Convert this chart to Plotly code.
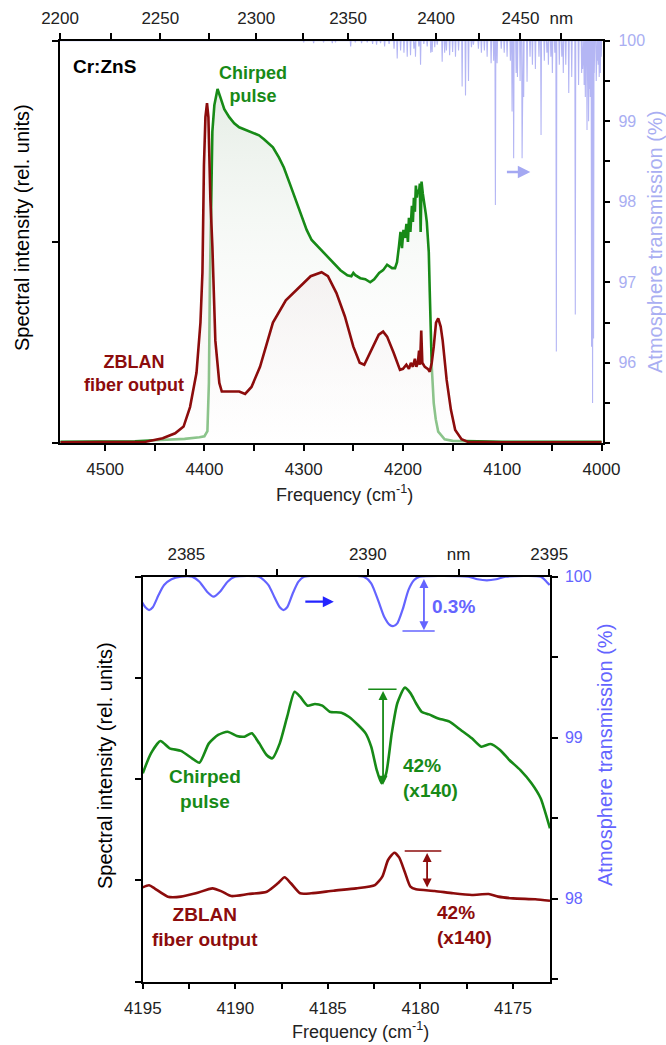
import plotly.graph_objects as go

W, H = 666, 1045
FONT = "Liberation Sans, Arial, sans-serif"

# ---------------- data: top panel (cm^-1 , rel. units) ----------------
green_top_f = [4545, 4500, 4470, 4450, 4420, 4405, 4400, 4397, 4395.5, 4394.5, 4393.5, 4392, 4390, 4388,
               4386.8, 4384, 4380, 4375, 4370, 4365, 4360, 4355, 4350, 4345, 4340, 4335, 4331, 4325, 4320,
               4314, 4306, 4297, 4292, 4288, 4280, 4275, 4271, 4263, 4256, 4252, 4250, 4248, 4243, 4238,
               4233, 4229, 4224, 4220, 4216, 4213, 4211, 4208, 4206, 4204, 4202.5, 4201, 4199.5, 4198,
               4196.5, 4195, 4194, 4192.5, 4191, 4190, 4189, 4188, 4187, 4186, 4185, 4184, 4183, 4182.2,
               4181.3, 4180, 4179, 4178, 4177, 4176, 4175, 4174, 4173, 4172, 4171, 4169, 4167, 4164.5,
               4160, 4158, 4150, 4100, 4000]
green_top_I = [0.008, 0.008, 0.010, 0.015, 0.022, 0.030, 0.035, 0.06, 0.30, 0.80, 1.20, 1.55, 1.68, 1.74,
               1.76, 1.72, 1.66, 1.62, 1.59, 1.57, 1.56, 1.55, 1.54, 1.53, 1.51, 1.49, 1.47, 1.42, 1.37,
               1.29, 1.18, 1.06, 1.01, 0.99, 0.95, 0.92, 0.90, 0.86, 0.835, 0.83, 0.846, 0.835, 0.82, 0.815,
               0.80, 0.815, 0.846, 0.86, 0.887, 0.875, 0.87, 0.87, 0.90, 0.98, 1.05, 0.97, 1.06, 1.02,
               1.09, 1.00, 1.12, 1.05, 1.18, 1.10, 1.22, 1.15, 1.28, 1.22, 1.26, 1.24, 1.29, 1.05,
               1.30, 1.24, 1.21, 1.19, 1.14, 1.10, 1.03, 0.95, 0.75, 0.55, 0.38, 0.20, 0.12, 0.058,
               0.03, 0.02, 0.012, 0.008, 0.008]

red_top_f = [4545, 4500, 4470, 4459, 4442, 4429.5, 4421, 4414.5, 4408, 4404, 4402, 4400.5, 4399, 4397.4,
             4396, 4394, 4392, 4389, 4385, 4382.5, 4374, 4365, 4359, 4352.6, 4344, 4331, 4318, 4305.5,
             4293, 4282, 4275.6, 4267, 4258.5, 4250, 4243.6, 4239, 4233, 4224.4, 4220, 4216, 4209.4,
             4203, 4200, 4196.6, 4194, 4192, 4190, 4188, 4186.5, 4185, 4183.8, 4182.8, 4181.6, 4180.5,
             4178, 4175, 4173, 4171, 4169, 4166.7, 4164.5, 4162, 4160, 4156, 4151.7, 4147.4, 4141,
             4135, 4100, 4000]
red_top_I = [0.005, 0.005, 0.006, 0.008, 0.025, 0.05, 0.083, 0.18, 0.35, 0.60, 0.85, 1.38, 1.62, 1.69,
             1.62, 1.21, 0.98, 0.51, 0.30, 0.257, 0.257, 0.257, 0.245, 0.28, 0.38, 0.60, 0.71, 0.77,
             0.83, 0.85, 0.83, 0.746, 0.63, 0.48, 0.40, 0.39, 0.45, 0.54, 0.555, 0.53, 0.45,
             0.365, 0.37, 0.39, 0.37, 0.40, 0.38, 0.42, 0.38, 0.40, 0.46, 0.39, 0.56, 0.40,
             0.38, 0.37, 0.356, 0.40, 0.48, 0.60, 0.62, 0.58, 0.51, 0.315, 0.166, 0.066, 0.02,
             0.008, 0.005, 0.005]

# atmospheric absorption lines (cm^-1, transmission %)
atm_line_f = [4300, 4290, 4280, 4271.2, 4268, 4252.7, 4248, 4241.7, 4236, 4230.6, 4226.6, 4222.6, 4218.5,
              4214, 4209, 4205.8, 4202.4, 4199, 4195.7, 4192.4, 4189, 4187.4, 4184, 4182.3, 4179, 4175.6,
              4172, 4170.6, 4168, 4165.5, 4160.5, 4158, 4156.2, 4153, 4150, 4147.1, 4144, 4140.4, 4137.0,
              4134.0, 4131, 4129, 4124, 4121, 4118, 4115.2, 4111.2, 4108.6, 4106.9, 4105.2, 4101, 4098,
              4095.1, 4091.8, 4090.1, 4088.5, 4086, 4084.7, 4082, 4080.0, 4078.4, 4075.0, 4072, 4069.6,
              4066.6, 4063, 4060.9, 4057.6, 4055, 4053.5, 4051, 4049.5, 4047, 4045.5, 4042.5, 4040,
              4038.5, 4036, 4033, 4030, 4026.4, 4023.1, 4020, 4019, 4017.5, 4016.3, 4014.6, 4013.0,
              4012, 4011.3, 4010, 4009.0, 4008, 4007.3, 4005.3, 4004, 4003.3, 4002.3, 4001.2, 4000.3]
atm_line_T = [99.98, 99.97, 99.98, 99.97, 99.98, 99.93, 99.98, 99.97, 99.98, 99.96, 99.95, 99.97, 99.93,
              99.96, 99.90, 99.78, 99.88, 99.85, 99.80, 99.82, 99.90, 99.80, 99.93, 99.70, 99.96, 99.93,
              99.85, 99.86, 99.92, 99.95, 99.74, 99.85, 99.88, 99.82, 99.86, 99.80, 99.88, 99.43, 99.32,
              99.50, 99.92, 99.95, 99.90, 99.85, 99.88, 99.80, 99.72, 99.75, 97.96, 99.72, 99.90, 99.85,
              99.80, 99.75, 99.12, 98.54, 99.60, 99.55, 99.50, 98.54, 99.30, 99.49, 99.80, 99.70,
              99.65, 99.80, 98.83, 99.75, 99.85, 99.70, 99.80, 99.60, 99.85, 96.14, 99.70, 99.80,
              99.60, 99.70, 99.35, 99.55, 96.60, 99.45, 99.60, 99.65, 99.45, 99.30, 98.89, 99.00,
              99.40, 99.30, 96.20, 95.50, 96.30, 99.60, 99.50, 99.75, 99.70, 99.55, 99.60, 99.80]

top_freq_ticks = [4500, 4450, 4400, 4350, 4300, 4250, 4200, 4150, 4100, 4050, 4000]
top_freq_labels = ["4500", "", "4400", "", "4300", "", "4200", "", "4100", "", "4000"]
top_nm_ticks = [2200, 2225, 2250, 2275, 2300, 2325, 2350, 2375, 2400, 2425, 2450, 2475]
top_nm_labels = ["2200", "", "2250", "", "2300", "", "2350", "", "2400", "", "2450", "nm"]
top_T_ticks = [95, 95.5, 96, 96.5, 97, 97.5, 98, 98.5, 99, 99.5, 100]
top_T_labels = ["", "", "96", "", "97", "", "98", "", "99", "", "100"]

# ---------------- data: bottom panel ----------------
green_bot_f = [4195, 4194.56, 4194.05, 4193.55, 4192.94, 4192.34, 4191.94, 4191.43, 4190.93, 4190.42,
               4189.92, 4189.51, 4189.11, 4188.71, 4188.31, 4188.0, 4187.6, 4187.2, 4186.8, 4186.5,
               4186.1, 4185.7, 4185.3, 4184.9, 4184.27, 4183.87, 4183.37, 4182.96, 4182.66, 4182.36,
               4182.1, 4181.85, 4181.55, 4181.25, 4180.85, 4180.54, 4180.24, 4179.94, 4179.54, 4179.03,
               4178.43, 4177.82, 4177.22, 4176.71, 4176.21, 4175.7, 4175.2, 4174.6, 4174.0, 4173.5,
               4173.3, 4173.0]
green_bot_I = [2.058, 2.256, 2.377, 2.305, 2.28, 2.206, 2.163, 2.354, 2.437, 2.469,
               2.427, 2.42, 2.453, 2.354, 2.239, 2.206, 2.354, 2.617, 2.864, 2.815,
               2.726, 2.743, 2.726, 2.667, 2.657, 2.617, 2.535, 2.453, 2.321, 2.09,
               1.96, 2.058, 2.453, 2.75, 2.904, 2.85, 2.75, 2.667, 2.64, 2.60,
               2.568, 2.486, 2.404, 2.321, 2.348, 2.289, 2.19, 2.09, 1.96, 1.81,
               1.70, 1.515]

red_bot_f = [4195, 4194.66, 4194.35, 4193.65, 4192.94, 4192.14, 4191.23, 4190.72, 4190.22, 4189.3,
             4188.3, 4187.7, 4187.34, 4187.0, 4186.5, 4185.9, 4184.7, 4183.47, 4182.46, 4182.06,
             4181.75, 4181.41, 4181.15, 4180.85, 4180.54, 4180.24, 4179.23, 4178.23, 4177.22, 4176.31,
             4175.8, 4175.0, 4173.8, 4173.0]
red_bot_I = [0.932, 0.952, 0.92, 0.84, 0.84, 0.873, 0.922, 0.89, 0.846, 0.866,
             0.889, 0.972, 1.031, 0.972, 0.873, 0.873, 0.899, 0.922, 0.955, 1.037,
             1.202, 1.274, 1.228, 1.086, 0.938, 0.912, 0.896, 0.873, 0.857, 0.866,
             0.84, 0.823, 0.814, 0.80]

atm_bot_f = [4195.06, 4194.86, 4194.66, 4194.46, 4194.15, 4193.85, 4193.45, 4192.94, 4192.34, 4191.94,
             4191.53, 4191.17, 4190.83, 4190.42, 4190.02, 4188.71, 4188.21, 4187.9, 4187.6, 4187.4,
             4187.2, 4186.9, 4186.59, 4186.29, 4183.06, 4182.66, 4182.26, 4181.96, 4181.65, 4181.45,
             4181.25, 4180.95, 4180.65, 4180.34, 4180.04, 4177.42, 4176.92, 4176.41, 4175.91, 4175.4,
             4173.49, 4173.19, 4173.02]
atm_bot_T = [99.845, 99.81, 99.793, 99.81, 99.886, 99.948, 99.984, 100.0, 100.0, 99.969,
             99.907, 99.876, 99.907, 99.969, 100.0, 100.0, 99.948, 99.876, 99.81, 99.793,
             99.81, 99.896, 99.969, 100.0, 100.0, 99.959, 99.845, 99.752, 99.70, 99.694,
             99.71, 99.80, 99.917, 99.979, 100.0, 100.0, 99.984, 99.977, 99.984, 100.0,
             100.0, 99.969, 99.948]

bot_freq_ticks = [4195, 4192.5, 4190, 4187.5, 4185, 4182.5, 4180, 4177.5, 4175]
bot_freq_labels = ["4195", "", "4190", "", "4185", "", "4180", "", "4175"]
bot_nm_ticks = [2385, 2387.5, 2390, 2392.5, 2395]
bot_nm_labels = ["2385", "", "2390", "nm", "2395"]
bot_T_ticks = [97.5, 98, 98.5, 99, 99.5, 100]
bot_T_labels = ["", "98", "", "99", "", "100"]

# ---------------- styles ----------------
GREEN = "#178a17"
RED = "#8c0c0c"
LAV = "#b4b6f4"
LAV_TXT = "#a9aef2"
BLUE = "#6464ff"

# ---------------- layout geometry (pixels) ----------------
def fx(px):
    return px / W

def fy(py):
    return 1 - py / H

top_x = [fx(59.5), fx(602.5)]
top_y = [fy(443.3), fy(40.7)]
bot_x = [fx(142.8), fx(550.0)]
bot_y = [fy(981.7), fy(576.7)]

fig = go.Figure()

# atmospheric lines (top) built from line list
atm_x, atm_y = [4546], [100]
for f, t in zip(atm_line_f, atm_line_T):
    atm_x += [f + 0.45, f, f - 0.45]
    atm_y += [100, t, 100]
atm_x.append(3999)
atm_y.append(100)

fig.add_trace(go.Scatter(x=green_top_f, y=green_top_I, xaxis="x", yaxis="y", mode="lines",
                         line=dict(color=GREEN, width=2.6), fill="tozeroy",
                         fillgradient=dict(type="vertical", start=0, stop=1.8,
                                           colorscale=[[0, "rgba(255,255,255,0)"],
                                                       [1, "rgba(222,232,222,0.8)"]]),
                         hoverinfo="skip", showlegend=False))
fig.add_trace(go.Scatter(x=red_top_f, y=red_top_I, xaxis="x", yaxis="y", mode="lines",
                         line=dict(color=RED, width=2.6), fill="tozeroy",
                         fillgradient=dict(type="vertical", start=0, stop=0.9,
                                           colorscale=[[0, "rgba(255,255,255,0.5)"],
                                                       [1, "rgba(238,232,232,0.55)"]]),
                         hoverinfo="skip", showlegend=False))
fig.add_trace(go.Scatter(x=atm_x, y=atm_y, xaxis="x", yaxis="y2", mode="lines",
                         line=dict(color=LAV, width=1.1), hoverinfo="skip", showlegend=False))
fig.add_trace(go.Scatter(x=[], y=[], xaxis="x2", yaxis="y", showlegend=False))

# bottom panel
fig.add_trace(go.Scatter(x=green_bot_f, y=green_bot_I, xaxis="x3", yaxis="y3", mode="lines",
                         line=dict(color=GREEN, width=2.6, shape="spline", smoothing=0.6),
                         hoverinfo="skip", showlegend=False))
fig.add_trace(go.Scatter(x=red_bot_f, y=red_bot_I, xaxis="x3", yaxis="y3", mode="lines",
                         line=dict(color=RED, width=2.6, shape="spline", smoothing=0.6),
                         hoverinfo="skip", showlegend=False))
fig.add_trace(go.Scatter(x=atm_bot_f, y=atm_bot_T, xaxis="x3", yaxis="y4", mode="lines",
                         line=dict(color=BLUE, width=2.2, shape="spline", smoothing=0.6),
                         hoverinfo="skip", showlegend=False))
fig.add_trace(go.Scatter(x=[], y=[], xaxis="x4", yaxis="y3", showlegend=False))

tickfont = dict(family=FONT, size=17, color="#222")
common = dict(showline=True, linecolor="black", linewidth=1.5, ticks="outside", ticklen=6,
              tickwidth=1.5, tickcolor="black", showgrid=False, zeroline=False, automargin=False,
              tickmode="array", tickfont=tickfont, fixedrange=True)

fig.update_layout(
    template="none",
    width=W, height=H, margin=dict(l=0, r=0, t=0, b=0, pad=0, autoexpand=False),
    paper_bgcolor="white", plot_bgcolor="white", showlegend=False,
    xaxis=dict(domain=top_x, anchor="y", range=[4546, 3999], side="bottom",
               tickvals=top_freq_ticks, ticktext=top_freq_labels, ticklabelstandoff=4, **common),
    xaxis2=dict(overlaying="x", anchor="y", side="top", range=[4546, 3999],
                tickvals=[1e7 / v for v in top_nm_ticks], ticktext=top_nm_labels,
                ticklabelstandoff=2, **common),
    yaxis=dict(domain=top_y, anchor="x", range=[0, 2], tickvals=[0, 1, 2],
               showticklabels=False, **common),
    yaxis2=dict(overlaying="y", anchor="x", side="right", range=[95, 100.0],
                tickvals=top_T_ticks, ticktext=top_T_labels, ticklabelstandoff=5,
                **{**common, "tickfont": dict(family=FONT, size=16, color=LAV_TXT)}),
    xaxis3=dict(domain=bot_x, anchor="y3", range=[4195, 4173], side="bottom",
                tickvals=bot_freq_ticks, ticktext=bot_freq_labels, ticklabelstandoff=4, **common),
    xaxis4=dict(overlaying="x3", anchor="y3", side="top", range=[2383.8, 2395.02],
                tickvals=bot_nm_ticks, ticktext=bot_nm_labels, ticklabelstandoff=2, **common),
    yaxis3=dict(domain=bot_y, anchor="x3", range=[0, 4], tickvals=[0, 1, 2, 3, 4],
                showticklabels=False, **common),
    yaxis4=dict(overlaying="y3", anchor="x3", side="right", range=[97.485, 100.0],
                tickvals=bot_T_ticks, ticktext=bot_T_labels, ticklabelstandoff=4,
                **{**common, "tickfont": dict(family=FONT, size=16, color=BLUE)}),
)

ann = []

def txt(text, x, y, xref, yref, color, size=18, bold=True, xanchor="center", align="center",
        angle=0):
    ann.append(dict(text=f"<b>{text}</b>" if bold else text, x=x, y=y, xref=xref, yref=yref,
                    showarrow=False, xanchor=xanchor, yanchor="middle", align=align,
                    textangle=angle, font=dict(family=FONT, size=size, color=color)))

# axis titles
txt("Spectral intensity (rel. units)", fx(22), fy(228), "paper", "paper", "black", 20, False, angle=-90)
txt("Atmosphere transmission (%)", fx(655), fy(242), "paper", "paper", LAV_TXT, 20, False, angle=-90)
txt("Frequency (cm<sup>-1</sup>)", fx(344), fy(494), "paper", "paper", "#222", 18, False)
txt("Spectral intensity (rel. units)", fx(105), fy(766), "paper", "paper", "black", 20, False, angle=-90)
txt("Atmosphere transmission (%)", fx(605), fy(755), "paper", "paper", BLUE, 20, False, angle=-90)
txt("Frequency (cm<sup>-1</sup>)", fx(360), fy(1030), "paper", "paper", "#222", 18, False)

# top panel labels
txt("Cr:ZnS", 4500.2, 1.874, "x", "y", "black", 19)
txt("Chirped<br>pulse", 4351.3, 1.78, "x", "y", GREEN, 18)
txt("ZBLAN<br>fiber output", 4471, 0.347, "x", "y", RED, 18)

# bottom panel labels
txt("Chirped<br>pulse", 4191.64, 1.903, "x3", "y3", GREEN, 19)
txt("ZBLAN<br>fiber output", 4191.64, 0.54, "x3", "y3", RED, 19)
txt("42%<br>(x140)", 4181.07, 2.009, "x3", "y3", GREEN, 19, xanchor="left", align="left")
txt("42%<br>(x140)", 4179.23, 0.56, "x3", "y3", RED, 19, xanchor="left", align="left")
txt("0.3%", 4179.46, 99.818, "x3", "y4", BLUE, 19, xanchor="left", align="left")

def arrow(x, y, ax, ay, xref, yref, color, width=2, double=False, head=2, size=1.0):
    ann.append(dict(x=x, y=y, ax=ax, ay=ay, xref=xref, yref=yref, axref=xref, ayref=yref,
                    text="", showarrow=True, arrowhead=head, arrowsize=size, arrowwidth=width,
                    arrowcolor=color, standoff=0, startstandoff=0,
                    arrowside="end+start" if double else "end", startarrowhead=head,
                    startarrowsize=size))

arrow(4071.7, 98.37, 4096.8, 98.37, "x", "y2", "#a4a8f2", 2.5)
arrow(4184.68, 99.845, 4186.3, 99.845, "x3", "y4", "#2424ff", 2.2)
arrow(4179.81, 99.668, 4179.81, 99.995, "x3", "y4", BLUE, 1.8, True)
arrow(4182.02, 2.87, 4182.02, 1.93, "x3", "y3", GREEN, 1.8, True)
arrow(4179.64, 1.27, 4179.64, 0.915, "x3", "y3", RED, 1.8, True)

fig.update_layout(annotations=ann)

shapes = [
    dict(type="line", xref="x3", yref="y4", x0=4180.97, x1=4179.23, y0=99.663, y1=99.663,
         line=dict(color=BLUE, width=1.5)),
    dict(type="line", xref="x3", yref="y3", x0=4182.82, x1=4181.29, y0=2.888, y1=2.888,
         line=dict(color=GREEN, width=1.5)),
    dict(type="line", xref="x3", yref="y3", x0=4180.85, x1=4178.87, y0=1.291, y1=1.291,
         line=dict(color=RED, width=1.5)),
]
fig.update_layout(shapes=shapes)

fig.write_html("out.html")
